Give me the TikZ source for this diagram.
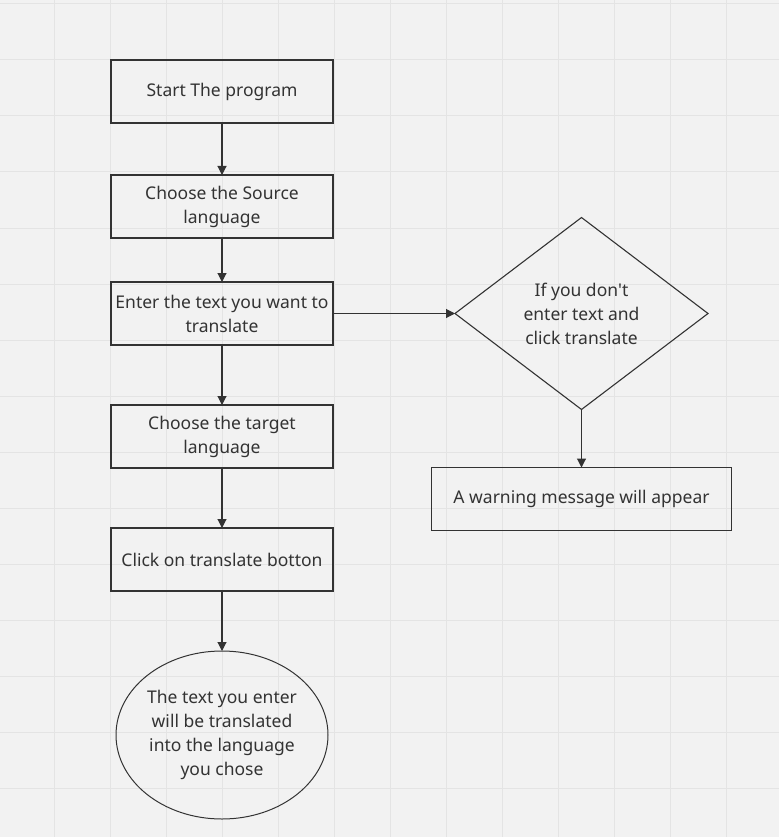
\documentclass[tikz,border=0pt]{standalone}
\usepackage{fontspec}
\setmainfont{Noto Sans}
\usepackage{tikz}
\usetikzlibrary{arrows.meta, positioning, shapes.geometric}
\definecolor{canvasbg}{HTML}{F2F2F2}
\definecolor{gridgray}{HTML}{E4E4E4}
\definecolor{inkgray}{HTML}{333333}

\begin{document}
\begin{tikzpicture}[
  x=1pt, y=-1pt,
  every node/.style={font=\fontsize{17.5}{24}\selectfont, align=center,
                     text=inkgray, outer sep=0pt},
  stepbox/.style={draw=inkgray, line width=1.1pt, minimum width=222pt,
                  minimum height=63pt, inner sep=0pt},
  decision/.style={diamond, draw=inkgray, line width=1.1pt, inner sep=0pt,
                   minimum width=253pt, minimum height=192pt},
  outcome/.style={ellipse, draw=inkgray, line width=1pt, inner sep=0pt,
                  minimum width=212pt, minimum height=168pt},
  gridline/.style={gridgray, line width=1pt},
  arr/.style={-{Triangle[length=9pt, width=9pt]}, inkgray, line width=1.1pt}
]

% Canvas and grid
\fill[canvasbg] (0,0) rectangle (779,837);
\useasboundingbox (0,0) rectangle (779,837);
\foreach \gx in {54,110,...,726} \draw[gridline] (\gx,0) -- (\gx,837);
\foreach \gy in {4,60,...,788} \draw[gridline] (0,\gy) -- (779,\gy);

% Main flow
\node[stepbox] (start) at (222,91.5) {Start The program};
\node[stepbox, below=52pt of start] (source) {Choose the Source\\language};
\node[stepbox, below=44pt of source] (enter) {Enter the text you want to\\translate};
\node[stepbox, below=60pt of enter] (target) {Choose the target\\language};
\node[stepbox, below=60pt of target] (click) {Click on translate botton};
\node[outcome, below=60pt of click] (result) {The text you enter\\will be translated\\into the language\\you chose};

% Side branch
\node[decision, right=122pt of enter] (empty) {If you don\textquotesingle t\\enter text and\\click translate};
\node[stepbox, minimum width=300pt, below=58pt of empty] (warn) {A warning message will appear};

% Edges
\draw[arr] (start) -- (source);
\draw[arr] (source) -- (enter);
\draw[arr] (enter) -- (target);
\draw[arr] (target) -- (click);
\draw[arr] (click) -- (result);
\draw[arr] (enter) -- (empty);
\draw[arr] (empty) -- (warn);

\end{tikzpicture}
\end{document}
